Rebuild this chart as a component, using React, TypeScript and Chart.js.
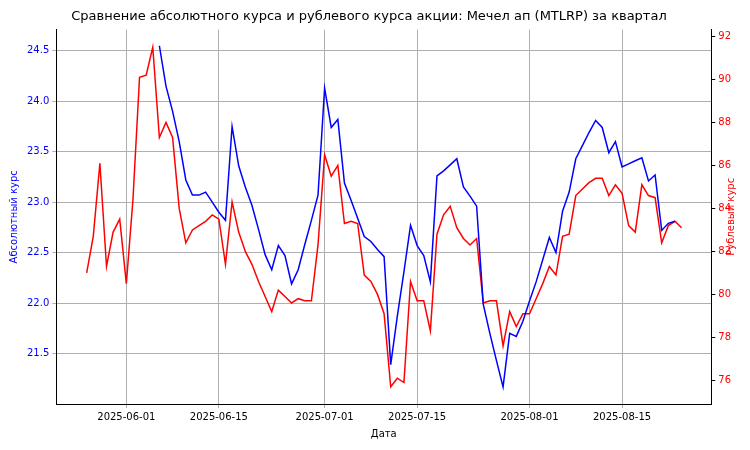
import React, { useEffect, useRef } from "react";
import { Chart, registerables } from "chart.js";
Chart.register(...registerables);

const startDate = "2025-05-26";
const rubValues = [81.0,82.7,86.1,81.3,82.9,83.5,80.5,84.4,90.1,90.2,91.5,87.3,88.0,87.3,84.0,82.4,83.0,83.2,83.4,83.7,83.5,81.4,84.3,82.9,82.0,81.4,80.6,79.9,79.2,80.2,79.9,79.6,79.8,79.7,79.7,82.3,86.5,85.5,86.0,83.3,83.4,83.3,80.9,80.6,80.0,79.1,75.7,76.1,75.9,80.6,79.7,79.7,78.3,82.8,83.7,84.1,83.1,82.6,82.3,82.6,79.6,79.7,79.7,77.6,79.2,78.5,79.1,79.1,79.8,80.5,81.3,80.9,82.7,82.8,84.6,84.9,85.2,85.4,85.4,84.6,85.1,84.7,83.2,82.9,85.1,84.6,84.5,82.4,83.2,83.4,83.1];
const absValues = [null,null,null,null,null,null,null,null,null,null,null,24.55,24.15,23.9,23.6,23.22,23.07,23.07,23.1,23.0,22.9,22.82,23.75,23.36,23.15,22.97,22.73,22.48,22.33,22.57,22.47,22.19,22.33,22.58,22.82,23.07,24.13,23.74,23.82,23.19,23.02,22.84,22.66,22.61,22.53,22.46,21.39,21.87,22.31,22.77,22.57,22.47,22.21,23.26,23.31,23.37,23.43,23.15,23.06,22.96,21.99,21.7,21.43,21.17,21.7,21.67,21.82,22.02,22.21,22.43,22.65,22.5,22.91,23.1,23.43,23.56,23.69,23.81,23.74,23.49,23.6,23.35,23.38,23.41,23.44,23.21,23.27,22.72,22.79,22.81];
const tickDays = [6, 20, 36, 50, 67, 81];
const rightTitle = "Рублевый курс";

const DAY = 86400000;
const t0 = Date.parse(startDate + "T00:00:00Z");
const fmt = (d: number) => new Date(t0 + d * DAY).toISOString().slice(0, 10);

const rightTitlePlugin = {
  id: "rightTitle",
  afterDraw(chart: any) {
    const ctx = chart.ctx;
    const s = chart.scales.y1;
    ctx.save();
    ctx.translate(s.right + 2, (chart.chartArea.top + chart.chartArea.bottom) / 2);
    ctx.rotate(-Math.PI / 2);
    ctx.fillStyle = "#ff0000";
    ctx.font = "10px 'DejaVu Sans'";
    ctx.textAlign = "center";
    ctx.textBaseline = "bottom";
    ctx.fillText(rightTitle, 0, 0);
    ctx.restore();
  },
};

export default function App() {
  const ref = useRef<HTMLCanvasElement>(null);
  useEffect(() => {
    document.body.style.margin = "0";
    const font = { family: "DejaVu Sans", size: 10 };
    const chart = new Chart(ref.current!, {
      type: "line",
      data: {
        datasets: [
          { label: "abs", data: absValues.map((v, i) => ({ x: i, y: v })), borderColor: "#0000ff", borderWidth: 1.5, pointRadius: 0, yAxisID: "y", spanGaps: false },
          { label: "rub", data: rubValues.map((v, i) => ({ x: i, y: v })), borderColor: "#ff0000", borderWidth: 1.5, pointRadius: 0, yAxisID: "y1" },
        ],
      },
      plugins: [rightTitlePlugin],
      options: {
        animation: false,
        responsive: false,
        layout: { padding: { left: 4, right: 16, top: 0, bottom: 6 } },
        plugins: {
          legend: { display: false },
          tooltip: { enabled: false },
          title: { display: true, text: "Сравнение абсолютного курса и рублевого курса акции: Мечел ап (MTLRP) за квартал", color: "#000", font: { family: "DejaVu Sans", size: 13, weight: "normal" }, padding: { top: 9, bottom: 5 } },
        },
        scales: {
          x: {
            type: "linear", min: -4.6, max: 94.5,
            afterBuildTicks: (s: any) => { s.ticks = tickDays.map((v) => ({ value: v })); },
            ticks: { callback: (v: any) => fmt(Number(v)), color: "#000", font, maxRotation: 0 },
            grid: { color: "#b0b0b0", drawTicks: true, tickLength: 4 },
            border: { color: "#000" },
            title: { display: true, text: "Дата", color: "#000", font, padding: { top: 2 } },
          },
          y: {
            position: "left", min: 21.0, max: 24.71,
            afterBuildTicks: (s: any) => { s.ticks = [21.5, 22, 22.5, 23, 23.5, 24, 24.5].map((v) => ({ value: v })); },
            ticks: { color: "#0000ff", font, callback: (v: any) => Number(v).toFixed(1) },
            grid: { color: "#b0b0b0", tickLength: 4 },
            border: { color: "#000" },
            title: { display: true, text: "Абсолютный курс", color: "#0000ff", font },
          },
          y1: {
            position: "right", min: 74.9, max: 92.32,
            afterBuildTicks: (s: any) => { s.ticks = [76, 78, 80, 82, 84, 86, 88, 90, 92].map((v) => ({ value: v })); },
            ticks: { color: "#ff0000", font },
            grid: { drawOnChartArea: false, tickLength: 4, color: "#000" },
            border: { color: "#000" },
          },
        },
      } as any,
    });
    return () => chart.destroy();
  }, []);
  return <div style={{ width: 750, height: 450 }}><canvas ref={ref} width={750} height={450} /></div>;
}
